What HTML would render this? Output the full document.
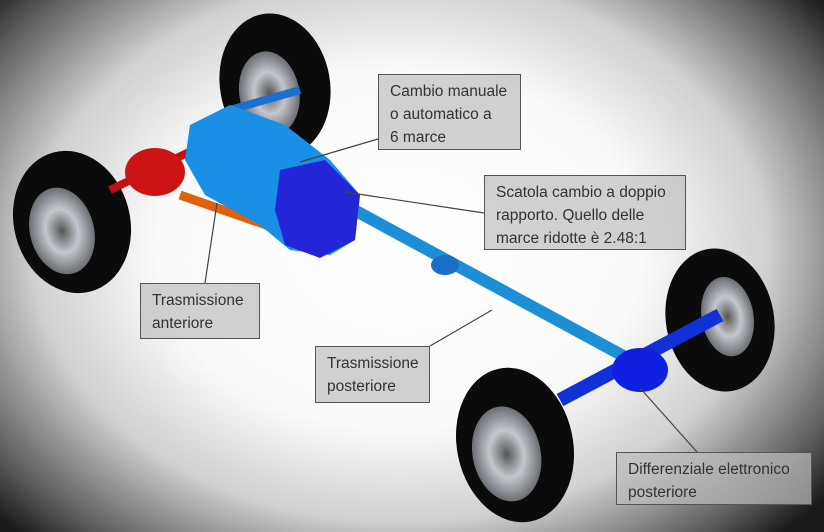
<!DOCTYPE html>
<html><head><meta charset="utf-8"><style>
html,body{margin:0;padding:0}
body{width:824px;height:532px;position:relative;overflow:hidden;
background:radial-gradient(ellipse 540px 400px at 400px 250px,#fff 0%,#fafafa 45%,#d0d0d0 68%,#5a5a5a 90%,#1a1a1a 100%);
font-family:"Liberation Sans",sans-serif}
.b{position:absolute;box-sizing:border-box;border:1.5px solid #555;background:rgba(190,190,190,0.7);
color:#333;font-size:15.5px;line-height:23px;padding:5px 8px 0 11px;white-space:nowrap}
svg{position:absolute;left:0;top:0}
</style></head><body>
<svg width="824" height="532">
<defs>
<radialGradient id="rim" cx="50%" cy="50%" r="50%"><stop offset="0" stop-color="#555"/><stop offset=".5" stop-color="#c4c8ce"/><stop offset="1" stop-color="#6a6d72"/></radialGradient>
</defs>
<g transform="rotate(-10 275 85)"><ellipse cx="275" cy="85" rx="55" ry="72" fill="#0b0b0b"/><ellipse cx="268" cy="92" rx="30" ry="42" fill="url(#rim)"/></g>
<g transform="rotate(-15 72 222)"><ellipse cx="72" cy="222" rx="58" ry="72" fill="#0b0b0b"/><ellipse cx="60" cy="228" rx="32" ry="44" fill="url(#rim)"/></g>
<g transform="rotate(-10 720 320)"><ellipse cx="720" cy="320" rx="54" ry="72" fill="#0b0b0b"/><ellipse cx="728" cy="318" rx="26" ry="40" fill="url(#rim)"/></g>
<g transform="rotate(-12 515 445)"><ellipse cx="515" cy="445" rx="58" ry="78" fill="#0b0b0b"/><ellipse cx="505" cy="452" rx="34" ry="48" fill="url(#rim)"/></g>
<line x1="345" y1="205" x2="640" y2="365" stroke="#1d8fd6" stroke-width="12"/>
<line x1="560" y1="400" x2="720" y2="315" stroke="#1030d8" stroke-width="14"/>
<line x1="180" y1="195" x2="295" y2="235" stroke="#e06010" stroke-width="9"/>
<line x1="110" y1="190" x2="235" y2="130" stroke="#c01010" stroke-width="8"/>
<line x1="230" y1="110" x2="300" y2="90" stroke="#1a6fd0" stroke-width="8"/>
<ellipse cx="155" cy="172" rx="30" ry="24" fill="#cc1414"/>
<path d="M190 125 L230 105 L285 125 L330 160 L360 195 L355 240 L330 255 L290 250 L260 225 L205 195 L185 160Z" fill="#1a8fe6"/>
<path d="M280 170 L325 160 L360 195 L355 240 L320 258 L285 245 L275 210Z" fill="#2525d8"/>
<ellipse cx="640" cy="370" rx="28" ry="22" fill="#1020e0"/>
<ellipse cx="445" cy="265" rx="14" ry="10" fill="#1a70c8"/>
<g stroke="#444" stroke-width="1.2">
<line x1="378" y1="139" x2="300" y2="162"/>
<line x1="484" y1="213" x2="345" y2="192"/>
<line x1="205" y1="283" x2="217" y2="203"/>
<line x1="430" y1="346" x2="492" y2="310"/>
<line x1="697" y1="452" x2="640" y2="388"/>
</g>
</svg>
<div class="b" style="left:378px;top:74px;width:143px;height:76px">Cambio manuale<br>o automatico a<br>6 marce</div>
<div class="b" style="left:484px;top:175px;width:202px;height:75px">Scatola cambio a doppio<br>rapporto. Quello delle<br>marce ridotte è 2.48:1</div>
<div class="b" style="left:140px;top:283px;width:120px;height:56px">Trasmissione<br>anteriore</div>
<div class="b" style="left:315px;top:346px;width:115px;height:57px">Trasmissione<br>posteriore</div>
<div class="b" style="left:616px;top:452px;width:196px;height:53px">Differenziale elettronico<br>posteriore</div>
</body></html>
